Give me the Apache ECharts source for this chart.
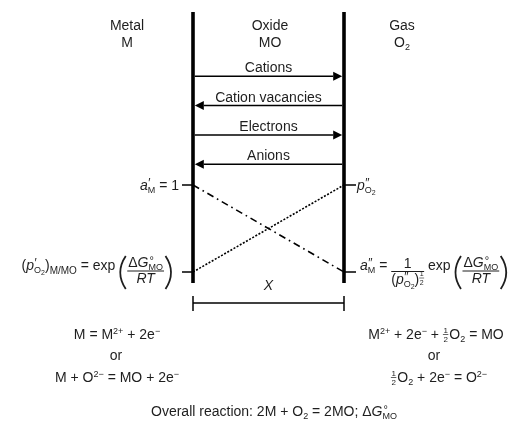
<!DOCTYPE html>
<html>
<head>
<meta charset="utf-8">
<script src="https://cdn.jsdelivr.net/npm/echarts@6/dist/echarts.min.js"></script>
<style>
  html, body { margin: 0; padding: 0; background: #ffffff; }
  #chart { width: 511px; height: 422px; }
</style>
</head>
<body>
<div id="chart"></div>
<script>
// Species migrating through the oxide scale and their direction (+1 toward the gas, -1 toward the metal)
const species = ['Cations', 'Cation vacancies', 'Electrons', 'Anions'];
const fluxDirection = [1, -1, 1, -1];

// Fractional position across the scale: 0 = metal/oxide interface, 1 = oxide/gas interface
const depth = [0, 1];
// Relative (log) levels of the two potentials at the interfaces
const metalActivity = [1, 0];   // a'_M = 1 at the metal, a''_M at the gas side
const oxygenPressure = [0, 1];  // p'_O2 (M/MO equilibrium) at the metal, p''_O2 at the gas

// ---- layout -------------------------------------------------------------
const W = 511, H = 422;
const scaleLeft = 193, scaleRight = 344;       // the two interfaces
const wallTop = 12, wallBottom = 283, WALL = 3.6;
const fluxTop = 61.5, fluxBottom = 179;
const potTop = 185, potBottom = 272;
const INK = '#1e1e1e', LINE = '#000000';
const FAMILY = '"Liberation Sans", Arial, Helvetica, sans-serif';
const BASE = 14;
const MID = 0.3;   // distance of the text middle above the baseline, in em

// ---- tiny formula typesetter (text pieces, sub/superscripts, fractions, parentheses)
const measureCtx = document.createElement('canvas').getContext('2d');
function fontOf(s, it) { return (it ? 'italic ' : '') + s + 'px ' + FAMILY; }
function widthOf(t, s, it) { measureCtx.font = fontOf(s, it); return measureCtx.measureText(t).width; }
function shift(p, dx, dy) {
  const q = Object.assign({}, p);
  if (q.kind === 'bar') { q.x1 += dx; q.x2 += dx; } else { q.x += dx; }
  q.dy = (q.dy || 0) + dy;
  return q;
}
function layoutRun(items) {
  const parts = [];
  let x = 0;
  items.forEach(item => {
    x += item.gap || 0;
    if (item.frac) {
      const num = layoutRun(item.frac.num), den = layoutRun(item.frac.den);
      const pad = item.pad == null ? 1.5 : item.pad;
      const w = Math.max(num.width, den.width) + 2 * pad;
      const cx = x + w / 2, dy = item.dy || 0;
      num.parts.forEach(p => parts.push(shift(p, cx - num.width / 2, dy + item.numDy)));
      den.parts.forEach(p => parts.push(shift(p, cx - den.width / 2, dy + item.denDy)));
      parts.push({ kind: 'bar', x1: x, x2: x + w, dy: dy + item.barDy, lw: item.lw || 1 });
      x += w;
    } else if (item.stack) {
      let w = 0;
      item.stack.forEach(p => {
        const s = p.s || BASE;
        parts.push({ kind: 'text', x: x + (p.dx || 0), dy: p.dy || 0, t: p.t, s, it: p.it });
        w = Math.max(w, widthOf(p.t, s, p.it) + (p.dx || 0));
      });
      x += w;
    } else if (item.paren) {
      const w = item.w || 6;
      parts.push({ kind: 'paren', x, w, top: item.top, bottom: item.bottom, open: item.paren === '(', dy: 0 });
      x += w;
    } else {
      const s = item.s || BASE;
      parts.push({ kind: 'text', x, dy: item.dy || 0, t: item.t, s, it: item.it });
      x += widthOf(item.t, s, item.it);
    }
    x += item.after || 0;
  });
  return { parts, width: x };
}
function formula(items, x, base, align) {
  const run = layoutRun(items);
  const x0 = align === 'right' ? x - run.width : align === 'center' ? x - run.width / 2 : x;
  return run.parts.map(p => {
    if (p.kind === 'text') {
      return { type: 'text', silent: true, x: x0 + p.x, y: base + p.dy - MID * p.s,
        style: { text: p.t, font: fontOf(p.s, p.it), fill: INK, align: 'left', verticalAlign: 'middle' } };
    }
    if (p.kind === 'bar') {
      return { type: 'line', silent: true,
        shape: { x1: x0 + p.x1, y1: base + p.dy, x2: x0 + p.x2, y2: base + p.dy },
        style: { stroke: INK, lineWidth: p.lw } };
    }
    const top = base + p.dy + p.top, bottom = base + p.dy + p.bottom;
    const outer = p.open ? x0 + p.x + p.w - 0.5 : x0 + p.x + 0.5;
    const inner = p.open ? x0 + p.x + 1 : x0 + p.x + p.w - 1;
    return { type: 'bezierCurve', silent: true,
      shape: { x1: outer, y1: top, x2: outer, y2: bottom, cpx1: 2 * inner - outer, cpy1: (top + bottom) / 2 },
      style: { stroke: INK, lineWidth: 1.8, fill: null } };
  });
}

// building blocks
const sup = t => ({ t, s: 9, dy: -5 });
const sub = t => ({ t, s: 9, dy: 3 });
const half = { frac: { num: [{ t: '1', s: 8 }], den: [{ t: '2', s: 8 }] }, numDy: -6, barDy: -4.5, denDy: 3.5, pad: 0.5, lw: 0.7 };
const degMO = { stack: [{ t: '°', s: 11, dy: -3, dx: 1 }, { t: 'MO', s: 9, dy: 3 }] };
const dG = [{ t: 'Δ' }, { t: 'G', it: true }, degMO];
const dGoverRT = { frac: { num: dG, den: [{ t: 'RT', it: true }] }, numDy: -2.5, barDy: 1, denDy: 13.5, pad: 1 };
const openBig = { paren: '(', w: 7, top: -14, bottom: 19, after: 1 };
const closeBig = { paren: ')', w: 7, top: -14, bottom: 19, gap: 1 };
const pO2 = (mark) => [{ t: 'p', it: true }, { stack: [{ t: mark, s: 12, dy: -3, dx: 0.5 }, { t: 'O', s: 9, dy: 3 }] }, { t: '2', s: 7, dy: 5 }];

const leftLower = [{ t: '(' }].concat(pO2('′'), [{ t: ')' }, { t: 'M/MO', s: 10, dy: 4 }, { t: ' = exp ' },
  openBig, dGoverRT, closeBig]);
const rightLower = [{ t: 'a', it: true }, { stack: [{ t: '″', s: 12, dy: -3, dx: 0.5 }, { t: 'M', s: 9, dy: 3 }] }, { t: ' = ' },
  { frac: { num: [{ t: '1' }], den: [{ t: '(' }].concat(pO2('″'), [{ t: ')' },
      { frac: { num: [{ t: '1', s: 7 }], den: [{ t: '2', s: 7 }] }, numDy: -8, barDy: -6.5, denDy: 0.5, pad: 0.5, lw: 0.6 }]) },
    numDy: -2, barDy: 1.5, denDy: 14.5, pad: 0 },
  { t: ' exp ' }, openBig, dGoverRT, closeBig];

const texts = [].concat(
  formula([{ t: 'Metal' }], 127, 30, 'center'),
  formula([{ t: 'M' }], 127, 47, 'center'),
  formula([{ t: 'Oxide' }], 270, 30, 'center'),
  formula([{ t: 'MO' }], 270, 47, 'center'),
  formula([{ t: 'Gas' }], 402, 30, 'center'),
  formula([{ t: 'O' }, sub('2')], 402, 47, 'center'),
  formula([{ t: 'a', it: true }, { stack: [{ t: '′', s: 12, dy: -3, dx: 0.5 }, { t: 'M', s: 9, dy: 3 }] }, { t: ' = 1' }], 179, 190, 'right'),
  formula(pO2('″'), 357, 190, 'left'),
  formula(leftLower, 172, 270, 'right'),
  formula(rightLower, 360, 270, 'left'),
  formula([{ t: 'X', it: true }], (scaleLeft + scaleRight) / 2, 290, 'center'),
  formula([{ t: 'M = M' }, sup('2+'), { t: ' + 2e' }, sup('−')], 117, 339, 'center'),
  formula([{ t: 'or' }], 116, 360, 'center'),
  formula([{ t: 'M + O' }, sup('2−'), { t: ' = MO + 2e' }, sup('−')], 117, 382, 'center'),
  formula([{ t: 'M' }, sup('2+'), { t: ' + 2e' }, sup('−'), { t: ' + ' }, half, { t: 'O', gap: 1 }, sub('2'), { t: ' = MO' }], 436, 339, 'center'),
  formula([{ t: 'or' }], 434, 360, 'center'),
  formula([half, { t: 'O', gap: 1 }, sub('2'), { t: ' + 2e' }, sup('−'), { t: ' = O' }, sup('2−')], 439, 382, 'center'),
  formula([{ t: 'Overall reaction: 2M + O' }, sub('2'), { t: ' = 2MO; Δ' }, { t: 'G', it: true }, degMO], 274, 416, 'center')
);

// the two interfaces and the thickness bracket
const frame = [
  { type: 'line', silent: true, shape: { x1: scaleLeft, y1: wallTop, x2: scaleLeft, y2: wallBottom }, style: { stroke: LINE, lineWidth: WALL } },
  { type: 'line', silent: true, shape: { x1: scaleRight, y1: wallTop, x2: scaleRight, y2: wallBottom }, style: { stroke: LINE, lineWidth: WALL } },
  { type: 'line', silent: true, shape: { x1: scaleLeft, y1: 303, x2: scaleRight, y2: 303 }, style: { stroke: LINE, lineWidth: 1.5 } },
  { type: 'line', silent: true, shape: { x1: scaleLeft, y1: 296, x2: scaleLeft, y2: 311 }, style: { stroke: LINE, lineWidth: 1.5 } },
  { type: 'line', silent: true, shape: { x1: scaleRight, y1: 296, x2: scaleRight, y2: 311 }, style: { stroke: LINE, lineWidth: 1.5 } }
];

const chart = echarts.init(document.getElementById('chart'), null, { renderer: 'canvas' });
chart.setOption({
  animation: false,
  backgroundColor: '#ffffff',
  grid: [
    { left: scaleLeft, right: W - scaleRight, top: fluxTop, bottom: H - fluxBottom },
    { left: scaleLeft, right: W - scaleRight, top: potTop, bottom: H - potBottom }
  ],
  xAxis: [
    { type: 'value', gridIndex: 0, min: 0, max: 1, show: false },
    { type: 'value', gridIndex: 1, min: 0, max: 1, show: false }
  ],
  yAxis: [
    { type: 'category', gridIndex: 0, data: species, inverse: true, show: false },
    { type: 'value', gridIndex: 1, min: 0, max: 1, interval: 1, position: 'left',
      axisLine: { show: false }, splitLine: { show: false }, axisLabel: { show: false },
      axisTick: { show: true, length: 11, lineStyle: { color: LINE, width: 1.5 } } },
    { type: 'value', gridIndex: 1, min: 0, max: 1, interval: 1, position: 'right',
      axisLine: { show: false }, splitLine: { show: false }, axisLabel: { show: false },
      axisTick: { show: true, length: 12, lineStyle: { color: LINE, width: 1.5 } } }
  ],
  series: [
    {
      // flux arrows across the scale
      type: 'custom',
      xAxisIndex: 0, yAxisIndex: 0,
      data: species.map((s, i) => [i, fluxDirection[i]]),
      encode: { y: 0 },
      silent: true,
      renderItem: function (params, api) {
        const i = api.value(0), dir = api.value(1);
        const a = api.coord([0, i]), b = api.coord([1, i]);
        const y = a[1], half = WALL / 2;
        const start = dir > 0 ? a[0] + half : b[0] - half;
        const tip = dir > 0 ? b[0] - half : a[0] + half;
        const back = tip - dir * 9;
        return {
          type: 'group',
          children: [
            { type: 'line', shape: { x1: start, y1: y, x2: back, y2: y }, style: { stroke: LINE, lineWidth: 1.5 } },
            { type: 'polygon', shape: { points: [[tip, y], [back, y - 4.5], [back, y + 4.5]] }, style: { fill: LINE } },
            { type: 'text', x: (a[0] + b[0]) / 2, y: y - 3.5 - MID * BASE,
              style: { text: species[i], font: fontOf(BASE), fill: INK, align: 'center', verticalAlign: 'middle' } }
          ]
        };
      }
    },
    {
      name: 'Metal activity',
      type: 'line', xAxisIndex: 1, yAxisIndex: 1,
      data: depth.map((d, i) => [d, metalActivity[i]]),
      showSymbol: false, silent: true,
      lineStyle: { color: LINE, width: 1.6, type: [7, 4, 1.6, 4] }
    },
    {
      name: 'Oxygen pressure',
      type: 'line', xAxisIndex: 1, yAxisIndex: 1,
      data: depth.map((d, i) => [d, oxygenPressure[i]]),
      showSymbol: false, silent: true,
      lineStyle: { color: LINE, width: 1.6, type: [2, 1.6] }
    }
  ],
  graphic: { elements: frame.concat(texts) }
});
</script>
</body>
</html>
